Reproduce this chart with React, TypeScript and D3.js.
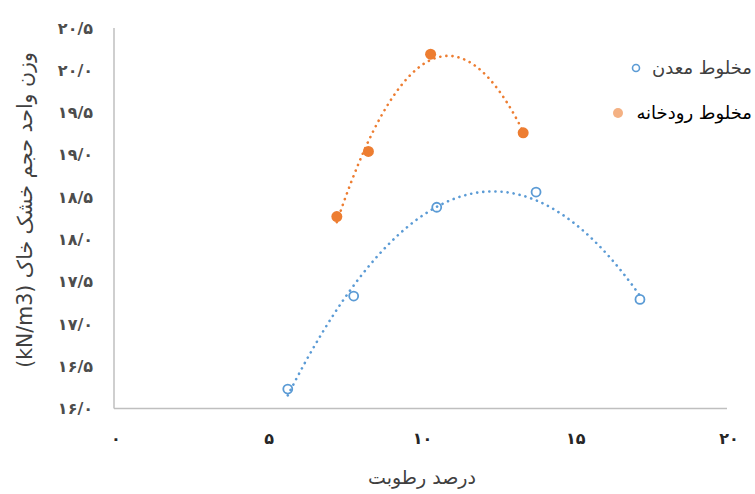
import React from "react";
import * as d3 from "d3";

const W = 755;
const H = 494;

// Data
const mineX = [5.67, 7.82, 10.53, 13.77, 17.16];
const mineY = [16.23, 17.33, 18.38, 18.56, 17.29];
const riverX = [7.27, 8.3, 10.33, 13.35];
const riverY = [18.27, 19.04, 20.19, 19.26];

const seriesNames = ["مخلوط معدن", "مخلوط رودخانه"];

const xTicks = [0, 5, 10, 15, 20];
const xTickLabels = ["۰", "۵", "۱۰", "۱۵", "۲۰"];
const yTicks = [16, 16.5, 17, 17.5, 18, 18.5, 19, 19.5, 20, 20.5];
const yTickLabels = ["۱۶/۰", "۱۶/۵", "۱۷/۰", "۱۷/۵", "۱۸/۰", "۱۸/۵", "۱۹/۰", "۱۹/۵", "۲۰/۰", "۲۰/۵"];

const xTitle = "درصد رطوبت";
const yTitle = "وزن واحد حجم خشک خاک (kN/m3)";

const BLUE = "#5b9bd5";
const ORANGE = "#ed7d31";

// least-squares quadratic fit (polynomial trendline of order 2)
function quadFit(xs: number[], ys: number[]) {
  const n = xs.length;
  let s1 = 0, s2 = 0, s3 = 0, s4 = 0, t0 = 0, t1 = 0, t2 = 0;
  for (let i = 0; i < n; i++) {
    const x = xs[i], y = ys[i];
    s1 += x; s2 += x * x; s3 += x * x * x; s4 += x * x * x * x;
    t0 += y; t1 += x * y; t2 += x * x * y;
  }
  const A = [
    [n, s1, s2, t0],
    [s1, s2, s3, t1],
    [s2, s3, s4, t2],
  ];
  for (let c = 0; c < 3; c++) {
    let p = c;
    for (let r = c + 1; r < 3; r++) if (Math.abs(A[r][c]) > Math.abs(A[p][c])) p = r;
    [A[c], A[p]] = [A[p], A[c]];
    for (let r = 0; r < 3; r++) {
      if (r === c) continue;
      const f = A[r][c] / A[c][c];
      for (let k = c; k < 4; k++) A[r][k] -= f * A[c][k];
    }
  }
  const a0 = A[0][3] / A[0][0], a1 = A[1][3] / A[1][1], a2 = A[2][3] / A[2][2];
  return (x: number) => a0 + a1 * x + a2 * x * x;
}

export default function App() {
  const x = d3.scaleLinear().domain([0, 20]).range([114, 727]);
  const y = d3.scaleLinear().domain([16, 20.5]).range([408.5, 28]);

  const trend = (xs: number[], ys: number[]) => {
    const f = quadFit(xs, ys);
    const lo = d3.min(xs)!, hi = d3.max(xs)!;
    const pts = d3.range(0, 81).map((i) => lo + ((hi - lo) * i) / 80);
    return d3
      .line<number>()
      .x((v) => x(v))
      .y((v) => y(f(v)))
      .curve(d3.curveLinear)(pts) as string;
  };

  const persian = "'DejaVu Sans', sans-serif";

  return (
    <svg
      width={W}
      height={H}
      style={{ position: "absolute", left: 0, top: 0, background: "#fff" }}
      fontFamily={persian}
    >
      <rect width={W} height={H} fill="#fff" />
      {/* axes */}
      <line x1={x(0)} x2={x(0)} y1={y(20.5)} y2={y(16)} stroke="#bfbfbf" strokeWidth={1.5} />
      <line x1={x(0)} x2={x(20)} y1={y(16)} y2={y(16)} stroke="#bfbfbf" strokeWidth={1.5} />

      {/* y tick labels */}
      {yTicks.map((t, i) => (
        <text key={"y" + t} x={93} y={y(t)} dy="0.35em" textAnchor="end" fontSize={16} fontWeight="bold" fill="#4d4d4d">
          {yTickLabels[i]}
        </text>
      ))}
      {/* x tick labels */}
      {xTicks.map((t, i) => (
        <text key={"x" + t} x={x(t) + 2} y={444} textAnchor="middle" fontSize={16} fontWeight="bold" fill="#262626">
          {xTickLabels[i]}
        </text>
      ))}

      {/* titles */}
      <text x={422} y={484} textAnchor="middle" fontSize={19} fill="#404040">
        {xTitle}
      </text>
      <text
        transform={`translate(25,${210}) rotate(-90)`}
        textAnchor="middle"
        fontSize={20.5}
        fill="#404040"
        direction="rtl"
        dy="0.35em"
      >
        {yTitle}
      </text>

      {/* trendlines */}
      <path d={trend(mineX, mineY)} fill="none" stroke={BLUE} strokeWidth={2.6} strokeDasharray="0.1 6" strokeLinecap="round" />
      <path d={trend(riverX, riverY)} fill="none" stroke={ORANGE} strokeWidth={2.6} strokeDasharray="0.1 6" strokeLinecap="round" />

      {/* markers */}
      {mineX.map((v, i) => (
        <circle key={"m" + i} cx={x(v)} cy={y(mineY[i])} r={4.5} fill="none" stroke={BLUE} strokeWidth={1.8} />
      ))}
      {riverX.map((v, i) => (
        <circle key={"r" + i} cx={x(v)} cy={y(riverY[i])} r={5.5} fill={ORANGE} />
      ))}

      {/* legend */}
      <circle cx={636} cy={68} r={3.5} fill="none" stroke={BLUE} strokeWidth={1.6} />
      <text x={752} y={68} dy="0.35em" textAnchor="end" fontSize={18} fill="#404040">
        {seriesNames[0]}
      </text>
      <circle cx={618} cy={113} r={5} fill="#f4b183" />
      <text x={752} y={113} dy="0.35em" textAnchor="end" fontSize={18} fill="#000">
        {seriesNames[1]}
      </text>
    </svg>
  );
}
